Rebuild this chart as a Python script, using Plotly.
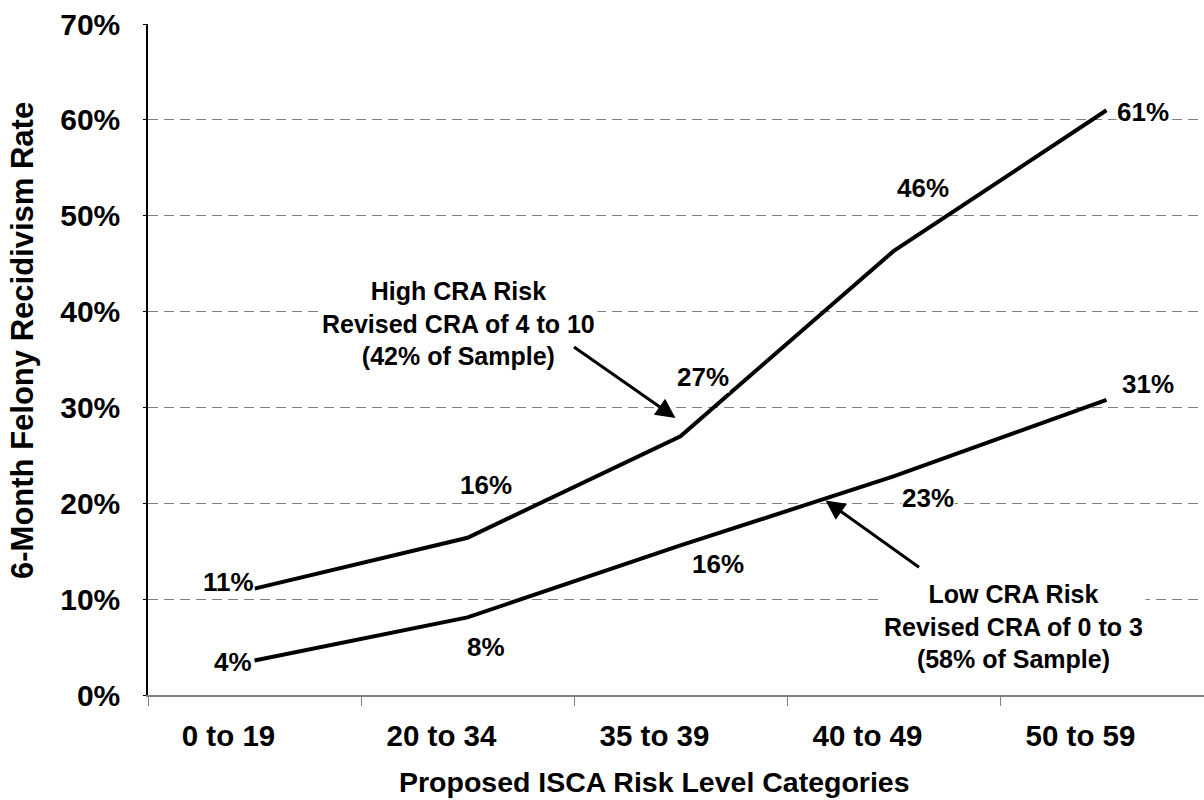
import plotly.graph_objects as go

# Recidivism rate (%) by proposed ISCA risk level, split by revised CRA risk group
categories = ["0 to 19", "20 to 34", "35 to 39", "40 to 49", "50 to 59"]
high_cra = [11.1, 16.4, 27.0, 46.3, 61.0]
low_cra = [3.6, 8.1, 15.6, 22.8, 30.8]
y_ticks = [0, 10, 20, 30, 40, 50, 60, 70]

# label placement (pixel offsets of each value label from its point)
high_label_shift = [(-26, 7), (18, 53), (22, 59), (29, 63), (36, -2)]
low_label_shift = [(-22, -2), (18, -30), (37, -19), (34, -22), (41, 16)]

FONT = "Liberation Sans, Arial, sans-serif"
W, H = 1204, 800
M_L, M_R, M_T, M_B = 148, 0, 24, 105
CAT_W = 213  # pixel width of one category slot

plot_w = W - M_L - M_R
x_max = plot_w / CAT_W - 0.5

fig = go.Figure()
for series in (high_cra, low_cra):
    fig.add_trace(go.Scatter(
        x=categories, y=series, mode="lines",
        line=dict(color="black", width=4), hoverinfo="skip", showlegend=False,
    ))

annotations = []
for series, shifts in ((high_cra, high_label_shift), (low_cra, low_label_shift)):
    for i, (v, (dx, dy)) in enumerate(zip(series, shifts)):
        annotations.append(dict(
            x=i, y=v, xref="x", yref="y", text=f"{round(v):d}%", showarrow=False,
            xshift=dx, yshift=dy, bgcolor="white", borderpad=0,
            font=dict(family=FONT, size=26, color="black", weight="bold"),
        ))

# callout boxes
annotations.append(dict(
    x=(458 - 254) / CAT_W, y=38.8, xref="x", yref="y", showarrow=False,
    text="High CRA Risk<br>Revised CRA of 4 to 10<br>(42% of Sample)",
    align="center", bgcolor="white", borderpad=2,
    font=dict(family=FONT, size=25, color="black", weight="bold"),
))
annotations.append(dict(
    x=(1013 - 254) / CAT_W, y=7.1, xref="x", yref="y", showarrow=False,
    text="Low CRA Risk<br>Revised CRA of 0 to 3<br>(58% of Sample)",
    align="center", bgcolor="white", borderpad=2,
    font=dict(family=FONT, size=25, color="black", weight="bold"),
))

# arrows pointing at each line
annotations.append(dict(
    x=(675 - 254) / CAT_W, y=28.9, xref="x", yref="y", text="", showarrow=True,
    ax=-103, ay=-72, arrowhead=2, arrowsize=1.3, arrowwidth=3, arrowcolor="black",
))
annotations.append(dict(
    x=(825 - 254) / CAT_W, y=20.3, xref="x", yref="y", text="", showarrow=True,
    ax=95, ay=68, arrowhead=2, arrowsize=1.3, arrowwidth=3, arrowcolor="black",
))

# axis titles
annotations.append(dict(
    x=(654 - M_L) / plot_w, y=-(782 - 695) / 671, xref="paper", yref="paper",
    text="Proposed ISCA Risk Level Categories", showarrow=False,
    xanchor="center", yanchor="middle",
    font=dict(family=FONT, size=28.5, color="black", weight="bold"),
))
annotations.append(dict(
    x=(22 - M_L) / plot_w, y=(695 - 341) / 671, xref="paper", yref="paper",
    text="6-Month Felony Recidivism Rate", showarrow=False, textangle=-90,
    xanchor="center", yanchor="middle",
    font=dict(family=FONT, size=31, color="black", weight="bold"),
))

fig.update_layout(
    width=W, height=H,
    margin=dict(l=M_L, r=M_R, t=M_T, b=M_B, pad=0),
    paper_bgcolor="white", plot_bgcolor="white",
    annotations=annotations,
    xaxis=dict(
        type="category", categoryorder="array", categoryarray=categories,
        range=[-0.5, x_max], tickson="boundaries",
        ticks="outside", ticklen=9, tickwidth=1, tickcolor="#808080",
        showline=True, linecolor="#808080", linewidth=1.5,
        showgrid=False, zeroline=False, ticklabelstandoff=14, ticklabelshift=-26,
        tickfont=dict(family=FONT, size=29.5, color="black", weight="bold"),
    ),
    yaxis=dict(
        range=[0, 70], tickmode="array", tickvals=y_ticks,
        ticktext=[f"{t}%" for t in y_ticks],
        ticks="outside", ticklen=3, tickcolor="black",
        showline=True, linecolor="black", linewidth=1.5,
        showgrid=True, gridcolor="#808080", gridwidth=1, griddash="10px,6px",
        zeroline=False, ticklabelstandoff=17,
        tickfont=dict(family=FONT, size=30, color="black", weight="bold"),
    ),
)

fig.write_html("out.html")
